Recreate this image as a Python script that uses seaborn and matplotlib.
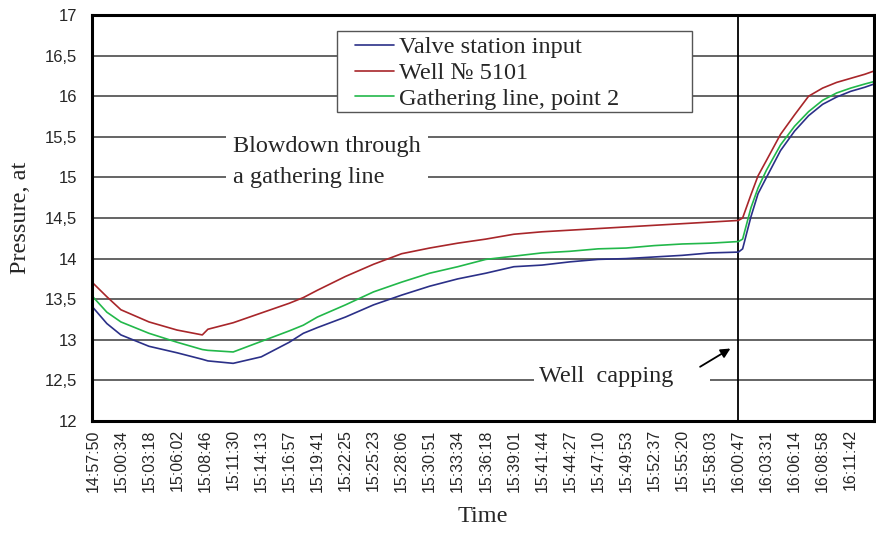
import matplotlib
matplotlib.use("Agg")
import matplotlib.pyplot as plt
from matplotlib.patches import Rectangle
import seaborn as sns
import pandas as pd

# category-axis tick labels (one every ~2:43)
tick_times = ["14:57:50", "15:00:34", "15:03:18", "15:06:02", "15:08:46", "15:11:30",
              "15:14:13", "15:16:57", "15:19:41", "15:22:25", "15:25:23", "15:28:06",
              "15:30:51", "15:33:34", "15:36:18", "15:39:01", "15:41:44", "15:44:27",
              "15:47:10", "15:49:53", "15:52:37", "15:55:20", "15:58:03", "16:00:47",
              "16:03:31", "16:06:14", "16:08:58", "16:11:42"]

# sample position, in tick steps from 14:57:50
sample_pos = [0, 0.5, 1, 2, 3, 3.9, 4.1, 5, 6, 7, 7.5, 8, 9, 10, 11, 12, 13, 14, 15,
              16, 17, 18, 19, 20, 21, 22, 23, 23.15, 23.45, 23.7, 24, 24.5, 25, 25.5,
              26, 26.5, 27, 27.5, 27.83]

valve_input = [13.40, 13.20, 13.06, 12.92, 12.84, 12.76, 12.74, 12.71, 12.79, 12.97,
               13.08, 13.15, 13.28, 13.43, 13.55, 13.66, 13.75, 13.82, 13.90, 13.92,
               13.96, 13.99, 14.00, 14.02, 14.04, 14.07, 14.08, 14.12, 14.52, 14.80,
               15.00, 15.33, 15.57, 15.76, 15.90, 15.99, 16.06, 16.11, 16.15]

well_5101 = [13.70, 13.53, 13.37, 13.22, 13.12, 13.06, 13.13, 13.21, 13.33, 13.45,
             13.52, 13.61, 13.78, 13.93, 14.06, 14.13, 14.19, 14.24, 14.30, 14.33,
             14.35, 14.37, 14.39, 14.41, 14.43, 14.45, 14.47, 14.50, 14.79, 15.02,
             15.21, 15.53, 15.77, 16.00, 16.10, 16.17, 16.22, 16.27, 16.31]

gathering_pt2 = [13.53, 13.34, 13.22, 13.08, 12.97, 12.88, 12.87, 12.85, 12.98, 13.11,
                 13.18, 13.28, 13.43, 13.59, 13.71, 13.82, 13.90, 13.99, 14.03, 14.07,
                 14.09, 14.12, 14.13, 14.16, 14.18, 14.19, 14.21, 14.24, 14.63, 14.87,
                 15.09, 15.40, 15.63, 15.81, 15.95, 16.04, 16.10, 16.15, 16.18]

series_names = ["Valve station input", "Well № 5101", "Gathering line, point 2"]
series_colors = ["#2b3088", "#a8262a", "#22b84a"]
capping_pos = 23

df = pd.DataFrame({
    "pos": sample_pos * 3,
    "pressure": valve_input + well_5101 + gathering_pt2,
    "series": [s for s in series_names for _ in sample_pos],
})

sns.set_style("white")
plt.rcParams['font.family'] = ['Liberation Serif', 'DejaVu Sans']

fig = plt.figure(figsize=(8.76, 5.38), dpi=100)
ax = fig.add_axes([0.105, 0.2175, 0.8927, 0.7546])

sns.lineplot(data=df, x="pos", y="pressure", hue="series", hue_order=series_names,
             palette=dict(zip(series_names, series_colors)), linewidth=1.2, ax=ax)

ax.set_xlim(-0.03, 27.83)
ax.set_ylim(12, 17)
ax.set_yticks([12 + 0.5 * i for i in range(11)])
ax.set_yticklabels([f"{12 + 0.5 * i:g}".replace(".", ",") for i in range(11)],
                   family="Liberation Sans", fontsize=12)
ax.set_xticks(range(len(tick_times)))
ax.set_xticklabels(tick_times, rotation=90, family="Liberation Sans", fontsize=11.5)
ax.tick_params(axis="y", length=4.5, width=1, color="#333333", pad=6)
ax.tick_params(axis="x", length=0, pad=6)

ax.yaxis.grid(True, color="#3a3a3a", linewidth=1.1)
ax.set_axisbelow(True)
for sp in ax.spines.values():
    sp.set_color("black")
    sp.set_linewidth(2.2)

ax.axvline(capping_pos, color="black", linewidth=1.3, zorder=1)

ax.set_xlabel("Time", fontsize=17.5, labelpad=10)
ax.set_ylabel("Pressure, at", fontsize=17.5, labelpad=10)

# legend frame drawn separately so the box can be wider than its entries
ax.add_patch(Rectangle((0.3133, 0.761), 0.454, 0.1995, transform=ax.transAxes,
                       facecolor="white", edgecolor="#555555", linewidth=1.0, zorder=4))
handles, labels = ax.get_legend_handles_labels()
leg = ax.legend(handles, labels, loc="upper left", bbox_to_anchor=(0.3363, 0.948),
                borderaxespad=0, fontsize=17.5, handlelength=1.6, handletextpad=0.2,
                labelspacing=0.16, borderpad=0, frameon=False)
leg.set_zorder(5)

ax.text(5.0, 15.19, "Blowdown through\na gathering line", fontsize=17.5,
        ha="left", va="center", linespacing=1.62,
        bbox=dict(facecolor="white", edgecolor="none", pad=5))
ax.text(15.9, 12.55, "Well  capping     ", fontsize=17.5, ha="left", va="center",
        bbox=dict(facecolor="white", edgecolor="none", pad=4))
ax.annotate("", xy=(22.8, 12.91), xytext=(21.55, 12.65),
            arrowprops=dict(arrowstyle="-|>", color="black", lw=1.3, mutation_scale=14))

fig.savefig("out.png", dpi=100)
